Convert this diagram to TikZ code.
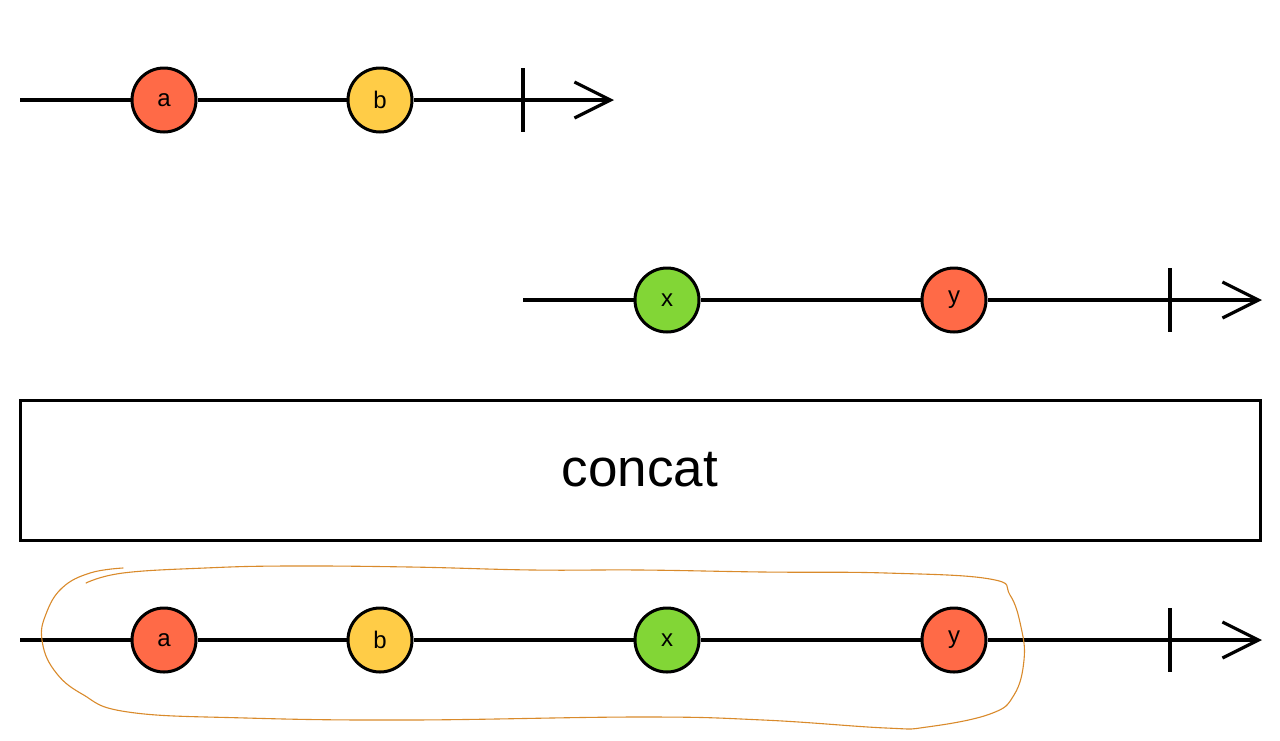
\documentclass[tikz,border=0pt]{standalone}
\usepackage{fontspec}
\setmainfont{Liberation Sans}
\usetikzlibrary{arrows.meta}
\definecolor{marbleRed}{HTML}{FF6A47}
\definecolor{marbleYellow}{HTML}{FFCC47}
\definecolor{marbleGreen}{HTML}{82D636}
\definecolor{loopOrange}{HTML}{D98A2B}
\begin{document}
\begin{tikzpicture}[x=1pt,y=-1pt,
  marble/.style={circle,draw=black,line width=3pt,minimum size=64pt,inner sep=0pt,
    font=\fontsize{24}{24}\selectfont},
  timeline/.style={line width=3.2pt,black},
  endtip/.style={-{Straight Barb[length=36pt,width=36pt,line width=3.2pt]}},
  ticker/.style={line width=3.2pt,black},
  opbox/.style={draw=black,line width=3pt,minimum width=1240pt,minimum height=140pt,
    font=\fontsize{53}{53}\selectfont}]
\useasboundingbox (0,0) rectangle (1280,740);

% first source stream
\coordinate (s1) at (20,100);
\coordinate (t1) at (523,100);
\coordinate (e1) at (614,100);
\node[marble,fill=marbleRed] (a1) at (164,100) {a};
\node[marble,fill=marbleYellow] (b1) at (380,100) {b};
\draw[timeline] (s1) -- (a1);
\draw[timeline] (a1) -- (b1);
\draw[timeline,endtip] (b1) -- (e1);
\draw[ticker] (t1) ++(0,-32) -- ++(0,64);

% second source stream
\coordinate (s2) at (523,300);
\coordinate (t2) at (1170,300);
\coordinate (e2) at (1262,300);
\node[marble,fill=marbleGreen] (x2) at (667,300) {x};
\node[marble,fill=marbleRed] (y2) at (954,300) {y};
\draw[timeline] (s2) -- (x2);
\draw[timeline] (x2) -- (y2);
\draw[timeline,endtip] (y2) -- (e2);
\draw[ticker] (t2) ++(0,-32) -- ++(0,64);

% operator
\node[opbox] (op) at (640,470) {concat};

% result stream
\coordinate (s3) at (20,640);
\coordinate (t3) at (1170,640);
\coordinate (e3) at (1262,640);
\node[marble,fill=marbleRed] (a3) at (164,640) {a};
\node[marble,fill=marbleYellow] (b3) at (380,640) {b};
\node[marble,fill=marbleGreen] (x3) at (667,640) {x};
\node[marble,fill=marbleRed] (y3) at (954,640) {y};
\draw[timeline] (s3) -- (a3);
\draw[timeline] (a3) -- (b3);
\draw[timeline] (b3) -- (x3);
\draw[timeline] (x3) -- (y3);
\draw[timeline,endtip] (y3) -- (e3);
\draw[ticker] (t3) ++(0,-32) -- ++(0,64);

% hand-drawn loop around the emitted values
\draw[loopOrange,line width=1.1pt,line cap=round,line join=round]
  plot[smooth,tension=0.7] coordinates {
    (86,583) (123,573) (205,568) (287,566) (410,567) (533,570) (640,570)
    (763,572) (886,573) (990,579) (1010,595) (1021,627) (1024,660)
    (1014,695) (990,714) (927,727) (886,728) (763,720) (640,717)
    (410,720) (246,718) (128,712) (82,694) (54,670) (42,640)
    (46,614) (62,588) (90,573) (123,568)};
\end{tikzpicture}
\end{document}
